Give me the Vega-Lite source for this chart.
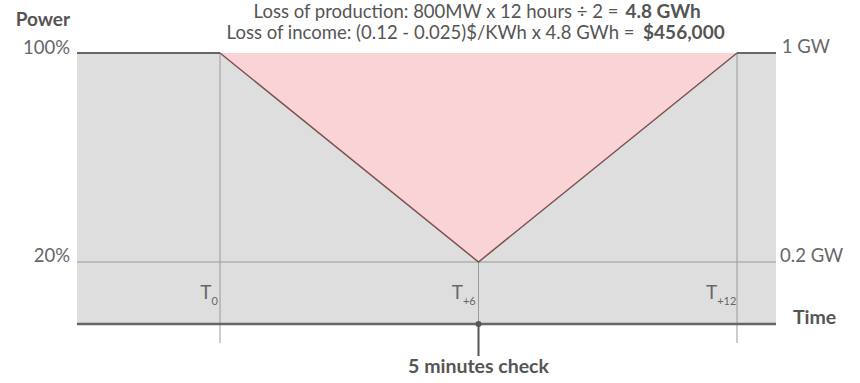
{
  "$schema": "https://vega.github.io/schema/vega-lite/v6.json",
  "width": 860,
  "height": 383,
  "autosize": {"type": "fit", "contains": "padding"},
  "padding": 0,
  "config": {"view": {"stroke": null}, "font": "Lato"},
  "datasets": {
    "panel": [{"t": -3.32, "t2": 12.905, "v": -3.7, "v2": 100}],
    "loss": [
      {"t": 0, "v": 100, "v2": 100},
      {"t": 6, "v": 20, "v2": 100},
      {"t": 12, "v": 100, "v2": 100}
    ],
    "floor": [{"t": -3.32, "t2": 12.905, "v": 20}],
    "hours": [
      {"t": 0, "v": 100, "v2": -11},
      {"t": 12, "v": 100, "v2": -11},
      {"t": 6, "v": 20, "v2": -3.7}
    ],
    "fullPower": [
      {"t": -3.32, "t2": 0, "v": 100},
      {"t": 12, "t2": 12.905, "v": 100}
    ],
    "timeAxis": [{"t": -3.32, "t2": 12.905, "v": -3.7}],
    "check": [{"t": 6, "v": -3.7, "v2": -16}],
    "leftLabels": [
      {"t": -3.48, "v": 101.9, "label": "100%"},
      {"t": -3.48, "v": 22.3, "label": "20%"}
    ],
    "rightLabels": [
      {"t": 13.04, "v": 102.3, "label": "1 GW"},
      {"t": 13.0, "v": 22.3, "label": "0.2 GW"}
    ],
    "axisTitles": [
      {"t": -3.48, "v": 112.6, "label": "Power"}
    ],
    "centredTitles": [
      {"t": 13.8, "v": -1.4, "label": "Time"},
      {"t": 6, "v": -20.2, "label": "5 minutes check"}
    ],
    "ticks": [
      {"t": -0.2, "v": 8.1, "v2": 4.5, "label": "T", "sub": "0"},
      {"t": 5.64, "v": 8.1, "v2": 4.5, "label": "T", "sub": "+6"},
      {"t": 11.54, "v": 8.1, "v2": 4.5, "label": "T", "sub": "+12"}
    ],
    "summary": [
      {"t": 9.25, "t2": 9.41, "v": 115.7, "label": "Loss of production: 800MW x 12 hours ÷ 2 =", "value": "4.8 GWh"},
      {"t": 9.62, "t2": 9.82, "v": 107.7, "label": "Loss of income: (0.12 - 0.025)$/KWh x 4.8 GWh =", "value": "$456,000"}
    ]
  },
  "encoding": {
    "x": {"field": "t", "type": "quantitative", "axis": null,
          "scale": {"domain": [-5.1064, 14.8549], "nice": false, "zero": false}},
    "y": {"field": "v", "type": "quantitative", "axis": null,
          "scale": {"domain": [-26.32, 120.29], "nice": false, "zero": false}}
  },
  "layer": [
    {
      "data": {"name": "panel"},
      "mark": {"type": "rect", "color": "#dedede"},
      "encoding": {"x2": {"field": "t2"}, "y2": {"field": "v2"}}
    },
    {
      "data": {"name": "loss"},
      "mark": {"type": "area", "color": "#f9d3d5", "opacity": 1},
      "encoding": {"y2": {"field": "v2"}}
    },
    {
      "data": {"name": "floor"},
      "mark": {"type": "rule", "color": "#9a9a9a", "strokeWidth": 1},
      "encoding": {"x2": {"field": "t2"}}
    },
    {
      "data": {"name": "hours"},
      "mark": {"type": "rule", "color": "#9a9a9a", "strokeWidth": 1},
      "encoding": {"y2": {"field": "v2"}}
    },
    {
      "data": {"name": "loss"},
      "mark": {"type": "line", "color": "#7b5252", "strokeWidth": 1.5},
      "encoding": {}
    },
    {
      "data": {"name": "fullPower"},
      "mark": {"type": "rule", "color": "#666666", "strokeWidth": 2},
      "encoding": {"x2": {"field": "t2"}}
    },
    {
      "data": {"name": "timeAxis"},
      "mark": {"type": "rule", "color": "#666666", "strokeWidth": 2.5},
      "encoding": {"x2": {"field": "t2"}}
    },
    {
      "data": {"name": "check"},
      "mark": {"type": "rule", "color": "#555555", "strokeWidth": 2},
      "encoding": {"y2": {"field": "v2"}}
    },
    {
      "data": {"name": "check"},
      "mark": {"type": "circle", "color": "#555555", "size": 36, "opacity": 1},
      "encoding": {}
    },
    {
      "data": {"name": "leftLabels"},
      "mark": {"type": "text", "align": "right", "baseline": "middle", "fontSize": 18.5, "color": "#666666"},
      "encoding": {"text": {"field": "label"}}
    },
    {
      "data": {"name": "rightLabels"},
      "mark": {"type": "text", "align": "left", "baseline": "middle", "fontSize": 18.5, "color": "#666666"},
      "encoding": {"text": {"field": "label"}}
    },
    {
      "data": {"name": "axisTitles"},
      "mark": {"type": "text", "align": "right", "baseline": "middle", "fontSize": 19, "fontWeight": "bold", "color": "#555555"},
      "encoding": {"text": {"field": "label"}}
    },
    {
      "data": {"name": "centredTitles"},
      "mark": {"type": "text", "align": "center", "baseline": "middle", "fontSize": 19.5, "fontWeight": "bold", "color": "#555555"},
      "encoding": {"text": {"field": "label"}}
    },
    {
      "data": {"name": "ticks"},
      "mark": {"type": "text", "align": "right", "baseline": "middle", "fontSize": 19, "color": "#666666"},
      "encoding": {"text": {"field": "label"}}
    },
    {
      "data": {"name": "ticks"},
      "mark": {"type": "text", "align": "left", "baseline": "middle", "fontSize": 11, "color": "#666666"},
      "encoding": {"y": {"field": "v2", "type": "quantitative"}, "text": {"field": "sub"}}
    },
    {
      "data": {"name": "summary"},
      "mark": {"type": "text", "align": "right", "baseline": "middle", "fontSize": 18.5, "color": "#555555"},
      "encoding": {"text": {"field": "label"}}
    },
    {
      "data": {"name": "summary"},
      "mark": {"type": "text", "align": "left", "baseline": "middle", "fontSize": 19, "fontWeight": "bold", "color": "#555555"},
      "encoding": {"x": {"field": "t2", "type": "quantitative"}, "text": {"field": "value"}}
    }
  ]
}
